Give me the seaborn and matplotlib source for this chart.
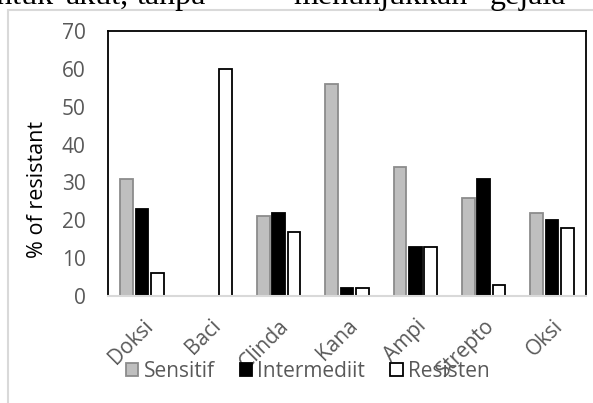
import pandas as pd
import matplotlib
matplotlib.use("Agg")
import matplotlib.pyplot as plt
from matplotlib.patches import Patch
from matplotlib.lines import Line2D
import seaborn as sns

# Data
antibiotics = ["Doksi", "Baci", "Clinda", "Kana", "Ampi", "Strepto", "Oksi"]
sensitif = [31, 0, 21, 56, 34, 26, 22]
intermediit = [23, 0, 22, 2, 13, 31, 20]
resisten = [6, 60, 17, 2, 13, 3, 18]
groups = ["Sensitif", "Intermediit", "Resisten"]

df = pd.DataFrame({
    "antibiotic": antibiotics * 3,
    "group": [g for g in groups for _ in antibiotics],
    "value": sensitif + intermediit + resisten,
})

sns.set_theme(style="white")
plt.rcParams["font.family"] = ["Open Sans", "DejaVu Sans"]

fills = {"Sensitif": "#bfbfbf", "Intermediit": "#000000", "Resisten": "#ffffff"}
edges = {"Sensitif": "#8c8c8c", "Intermediit": "#000000", "Resisten": "#000000"}
text_grey = "#595959"

fig = plt.figure(figsize=(5.93, 4.03), dpi=100)
ax = fig.add_axes([0.1821, 0.2655, 0.8061, 0.6576])

sns.barplot(data=df, x="antibiotic", y="value", hue="group",
            hue_order=groups, palette=fills, width=0.672, gap=0.17,
            legend=False, ax=ax)

for cont, g in zip(ax.containers, groups):
    for bar in cont:
        bar.set_edgecolor(edges[g])
        bar.set_linewidth(1.3)
        if bar.get_height() == 0:
            bar.set_visible(False)

ax.set_xlim(-0.5, 6.5)
ax.set_ylim(0, 70)
ax.set_yticks(range(0, 71, 10))
ax.set_xlabel("")
ax.set_ylabel("% of resistant", fontsize=15.5, color="black", labelpad=10, y=0.40)
ax.tick_params(axis="y", length=0, labelsize=15, labelcolor=text_grey, pad=16)
ax.tick_params(axis="x", length=0, labelsize=15, labelcolor=text_grey, pad=14)
plt.setp(ax.get_xticklabels(), rotation=45, ha="right", rotation_mode="anchor")

for side in ["left", "top", "right"]:
    ax.spines[side].set_color("black")
    ax.spines[side].set_linewidth(1.3)
ax.spines["bottom"].set_color("#d9d9d9")
ax.spines["bottom"].set_linewidth(1.5)

handles = [Patch(facecolor=fills[g], edgecolor=edges[g], linewidth=1.3, label=g)
           for g in groups]
leg = fig.legend(handles=handles, loc="center", bbox_to_anchor=(0.519, 0.079),
                 ncol=3, frameon=False, fontsize=15, handlelength=0.6,
                 handleheight=0.6, handletextpad=0.25, columnspacing=1.2,
                 borderpad=0)
for t in leg.get_texts():
    t.set_color(text_grey)

# outer chart frame (left and top edges visible)
W, H = 593, 403
fig.add_artist(Line2D([8 / W, 8 / W], [0, 1 - 10 / H], color="#d9d9d9", lw=1.5))
fig.add_artist(Line2D([8 / W, 1], [1 - 10 / H, 1 - 10 / H], color="#d9d9d9", lw=1.5))

# cut-off line of document text above the chart (justified words)
words = [("bentuk", 53, "right"), ("akut,", 97, "center"), ("tanpa", 171, "center"),
         ("menunjukkan", 380, "center"), ("gejala", 528, "center")]
for w, x, ha in words:
    fig.text(x / W, 1 - 4 / H, w, family="Liberation Serif", fontsize=23,
             color="black", ha=ha, va="baseline")

fig.savefig("out.png", dpi=100)
